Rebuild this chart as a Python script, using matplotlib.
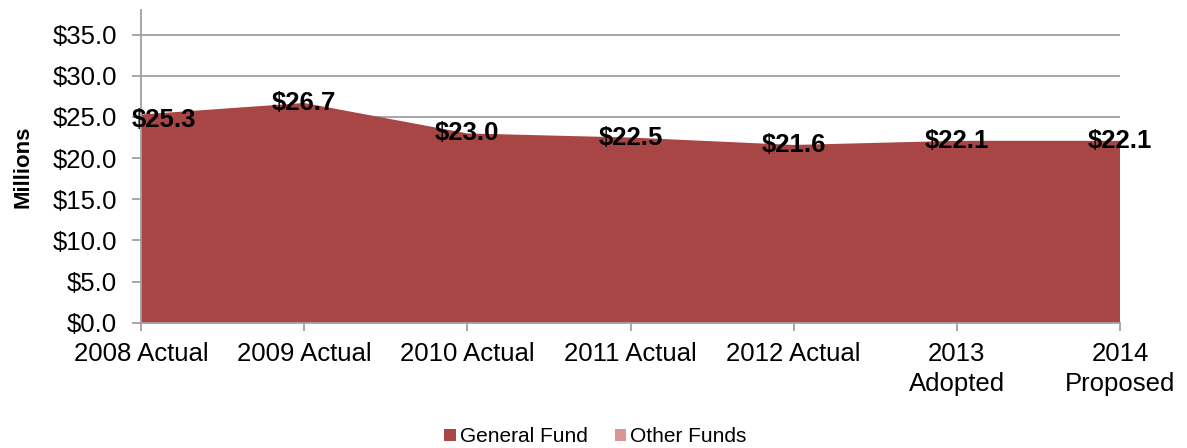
import numpy as np
import matplotlib.pyplot as plt

plt.rcParams['font.family'] = ['Liberation Sans', 'DejaVu Sans']

categories = ["2008 Actual", "2009 Actual", "2010 Actual", "2011 Actual",
              "2012 Actual", "2013\nAdopted", "2014\nProposed"]
general_fund = [25.3, 26.7, 23.0, 22.5, 21.6, 22.1, 22.1]
other_funds = [0, 0, 0, 0, 0, 0, 0]

red = "#A84646"
pink = "#D99694"
grid_gray = "#A0A0A0"

fig = plt.figure(figsize=(11.87, 4.48), dpi=100)
ax = fig.add_axes([0.1188, 0.2797, 0.8248, 0.698])

x = np.arange(len(categories))
ax.stackplot(x, general_fund, other_funds, colors=[red, pink],
             labels=["General Fund", "Other Funds"], linewidth=0)

ax.set_xlim(0, len(categories) - 1)
ax.set_ylim(0, 38)
yt = np.arange(0, 36, 5)
ax.set_yticks(yt)
ax.set_yticklabels(["$%.1f" % v for v in yt], fontsize=18.5)
ax.set_xticks(x)
ax.set_xticklabels(categories, fontsize=18.5, linespacing=1.3)
ax.set_ylabel("Millions", fontsize=16, fontweight="bold")
ax.yaxis.set_label_coords(-0.110, 0.5)

ax.grid(axis="y", color=grid_gray, linewidth=1.3)
ax.set_axisbelow(True)
for side in ["top", "right"]:
    ax.spines[side].set_visible(False)
for side in ["left", "bottom"]:
    ax.spines[side].set_color(grid_gray)
    ax.spines[side].set_linewidth(1.3)
ax.tick_params(axis="y", color=grid_gray, width=1.3, length=6.5, pad=11)
ax.tick_params(axis="x", color=grid_gray, width=1.3, length=6, pad=8)

totals = [g + o for g, o in zip(general_fund, other_funds)]
for i, t in enumerate(totals):
    if i == 0:
        ax.annotate("$%.1f" % t, (x[i], t), xytext=(-6.5, -4), textcoords="offset points",
                    ha="left", va="center", fontsize=18.5, fontweight="bold")
    else:
        ax.annotate("$%.1f" % t, (x[i], t), xytext=(0, 0), textcoords="offset points",
                    ha="center", va="center", fontsize=18.5, fontweight="bold")

handles, labels = ax.get_legend_handles_labels()
fig.legend(handles, labels, loc="center", bbox_to_anchor=(0.5017, 0.0246), ncol=2,
           frameon=False, fontsize=15, handlelength=0.55, handleheight=0.55,
           handletextpad=0.2, columnspacing=1.3, borderaxespad=0, borderpad=0)

fig.savefig("out.png", dpi=100)
